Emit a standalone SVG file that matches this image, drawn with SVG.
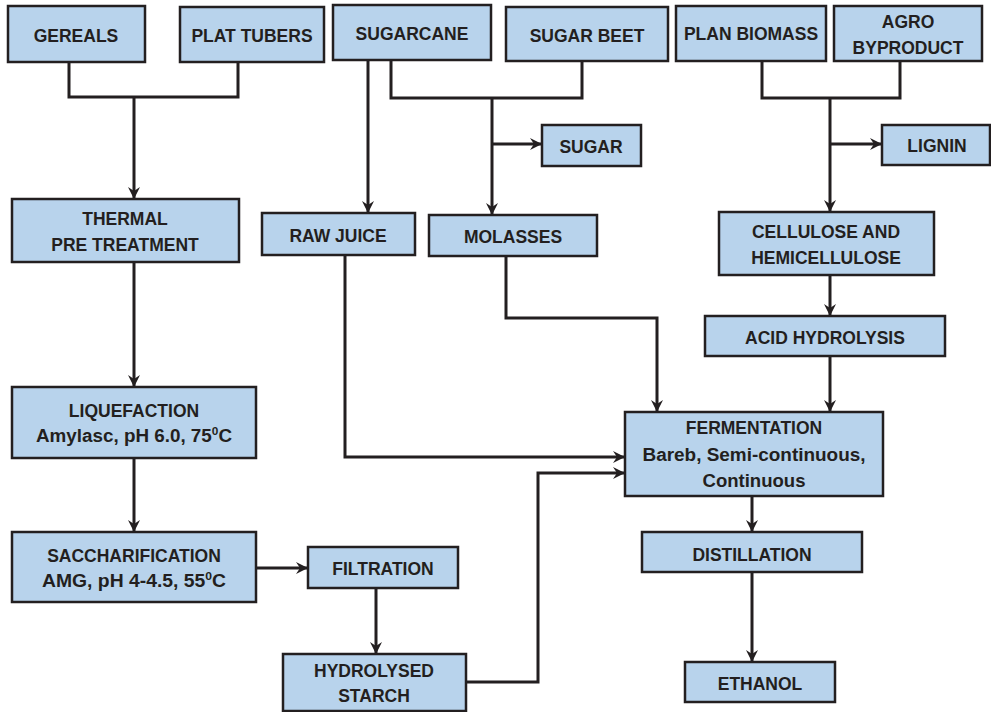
<svg xmlns="http://www.w3.org/2000/svg" width="991" height="712" viewBox="0 0 991 712">
<defs>
<style>
.box{fill:#B8D3EC;stroke:#231F20;stroke-width:2.5}
.t{font-family:"Liberation Sans",Arial,sans-serif;font-weight:bold;font-size:17.5px;fill:#231F20;text-anchor:middle}
.c{fill:none;stroke:#231F20;stroke-width:3}
.sup{font-size:11px}
</style>
<marker id="ah" viewBox="0 0 12 12" refX="11" refY="6" markerWidth="12" markerHeight="12" markerUnits="userSpaceOnUse" orient="auto">
<path d="M0,0 L12,6 L0,12 L4,6 z" fill="#231F20"/>
</marker>
</defs>
<rect width="991" height="712" fill="#FFFFFF"/>
<g id="connectors">
<path class="c" d="M69,62 V97 H238 V62"/>
<path class="c" d="M134,97 V198" marker-end="url(#ah)"/>
<path class="c" d="M134,262 V386" marker-end="url(#ah)"/>
<path class="c" d="M134,458 V531" marker-end="url(#ah)"/>
<path class="c" d="M256,568 H307" marker-end="url(#ah)"/>
<path class="c" d="M376,588 V653" marker-end="url(#ah)"/>
<path class="c" d="M466,682 H538 V473 H624" marker-end="url(#ah)"/>
<path class="c" d="M368,60 V212" marker-end="url(#ah)"/>
<path class="c" d="M391,60 V98 H582 V61"/>
<path class="c" d="M492,98 V214" marker-end="url(#ah)"/>
<path class="c" d="M492,144 H541" marker-end="url(#ah)"/>
<path class="c" d="M345,255 V457 H624" marker-end="url(#ah)"/>
<path class="c" d="M506,256 V318 H657 V411" marker-end="url(#ah)"/>
<path class="c" d="M762,61 V98 H900 V61"/>
<path class="c" d="M830,98 V211" marker-end="url(#ah)"/>
<path class="c" d="M830,144 H881" marker-end="url(#ah)"/>
<path class="c" d="M830,275 V315" marker-end="url(#ah)"/>
<path class="c" d="M830,356 V411" marker-end="url(#ah)"/>
<path class="c" d="M752,496 V531" marker-end="url(#ah)"/>
<path class="c" d="M752,572 V661" marker-end="url(#ah)"/>
</g>
<g id="gereals"><rect class="box" x="8" y="6" width="137" height="56"/><text class="t" x="76" y="42">GEREALS</text></g>
<g id="plat-tubers"><rect class="box" x="180" y="7" width="144" height="55"/><text class="t" x="252" y="42">PLAT TUBERS</text></g>
<g id="sugarcane"><rect class="box" x="333" y="5" width="158" height="55"/><text class="t" x="412" y="40">SUGARCANE</text></g>
<g id="sugar-beet"><rect class="box" x="506" y="7" width="162" height="54"/><text class="t" x="587" y="42">SUGAR BEET</text></g>
<g id="plan-biomass"><rect class="box" x="676" y="6" width="150" height="55"/><text class="t" x="751" y="40">PLAN BIOMASS</text></g>
<g id="agro-byproduct"><rect class="box" x="834" y="6" width="148" height="55"/><text class="t" x="908" y="28">AGRO</text><text class="t" x="908" y="54">BYPRODUCT</text></g>
<g id="sugar"><rect class="box" x="542" y="125" width="99" height="41"/><text class="t" x="591" y="153">SUGAR</text></g>
<g id="lignin"><rect class="box" x="882" y="125" width="108" height="40"/><text class="t" x="937" y="152">LIGNIN</text></g>
<g id="thermal"><rect class="box" x="12" y="199" width="227" height="63"/><text class="t" x="125" y="225">THERMAL</text><text class="t" x="125" y="251">PRE TREATMENT</text></g>
<g id="raw-juice"><rect class="box" x="262" y="213" width="153" height="42"/><text class="t" x="338" y="242">RAW JUICE</text></g>
<g id="molasses"><rect class="box" x="429" y="215" width="168" height="41"/><text class="t" x="513" y="243">MOLASSES</text></g>
<g id="cellulose"><rect class="box" x="719" y="212" width="215" height="63"/><text class="t" x="826" y="238">CELLULOSE AND</text><text class="t" x="826" y="264">HEMICELLULOSE</text></g>
<g id="acid-hydrolysis"><rect class="box" x="705" y="316" width="240" height="40"/><text class="t" x="825" y="344">ACID HYDROLYSIS</text></g>
<g id="liquefaction"><rect class="box" x="12" y="387" width="244" height="71"/><text class="t" x="134" y="417">LIQUEFACTION</text><text class="t" x="134" y="442" textLength="196" lengthAdjust="spacingAndGlyphs">Amylasc, pH 6.0, 75<tspan class="sup" dy="-7">0</tspan><tspan dy="7">C</tspan></text></g>
<g id="fermentation"><rect class="box" x="625" y="412" width="258" height="84"/><text class="t" x="754" y="434">FERMENTATION</text><text class="t" x="754" y="461" textLength="223" lengthAdjust="spacingAndGlyphs">Bareb, Semi-continuous,</text><text class="t" x="754" y="487" textLength="103" lengthAdjust="spacingAndGlyphs">Continuous</text></g>
<g id="saccharification"><rect class="box" x="12" y="532" width="244" height="70"/><text class="t" x="134" y="562">SACCHARIFICATION</text><text class="t" x="134" y="587" textLength="184" lengthAdjust="spacingAndGlyphs">AMG, pH 4-4.5, 55<tspan class="sup" dy="-7">0</tspan><tspan dy="7">C</tspan></text></g>
<g id="filtration"><rect class="box" x="308" y="547" width="150" height="41"/><text class="t" x="383" y="575">FILTRATION</text></g>
<g id="distillation"><rect class="box" x="642" y="532" width="220" height="40"/><text class="t" x="752" y="561">DISTILLATION</text></g>
<g id="hydrolysed-starch"><rect class="box" x="283" y="654" width="183" height="57"/><text class="t" x="374" y="677">HYDROLYSED</text><text class="t" x="374" y="702">STARCH</text></g>
<g id="ethanol"><rect class="box" x="685" y="662" width="150" height="40"/><text class="t" x="760" y="690">ETHANOL</text></g>
</svg>
